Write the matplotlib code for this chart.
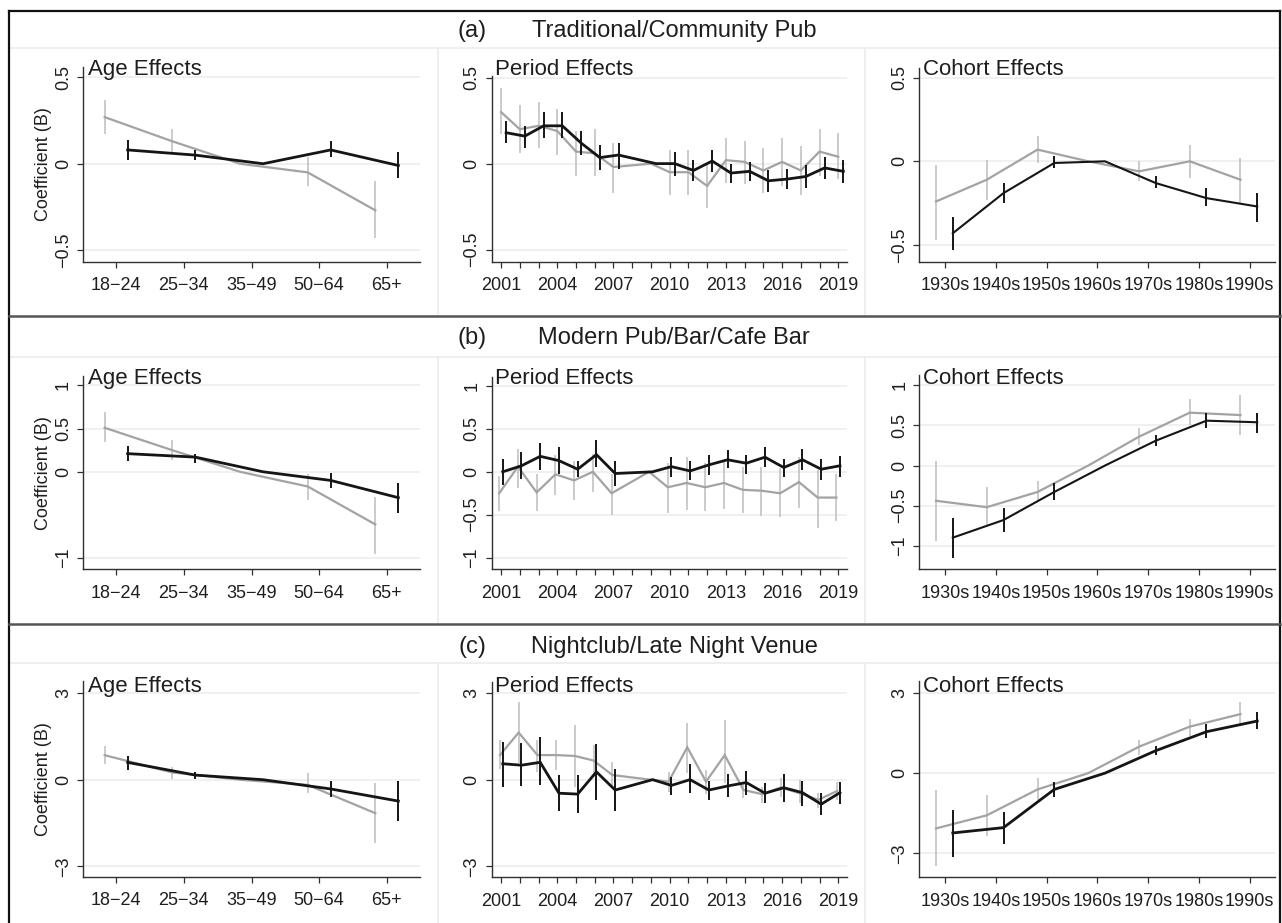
import numpy as np
import matplotlib
matplotlib.use("Agg")
import matplotlib.pyplot as plt
from matplotlib.lines import Line2D

plt.rcParams['font.family'] = ['Liberation Sans', 'DejaVu Sans']

nan = np.nan

# ---------------- categories ----------------
age_labels = ["18−24", "25−34", "35−49", "50−64", "65+"]
period_years = [2001, 2002, 2003, 2004, 2005, 2006, 2007, 2009, 2010, 2011,
                2012, 2013, 2014, 2015, 2016, 2017, 2018, 2019]
period_tick_years = list(range(2001, 2020))
period_label_years = [2001, 2004, 2007, 2010, 2013, 2016, 2019]
cohort_labels = ["1930s", "1940s", "1950s", "1960s", "1970s", "1980s", "1990s"]

row_titles = ["Traditional/Community Pub", "Modern Pub/Bar/Cafe Bar", "Nightclub/Late Night Venue"]
row_letters = ["(a)", "(b)", "(c)"]

# ---------------- (a) Traditional/Community Pub ----------------
a_age_grey = [0.27, 0.13, 0.0, -0.05, -0.27]
a_age_grey_lo = [0.17, 0.06, nan, -0.13, -0.43]
a_age_grey_hi = [0.37, 0.20, nan, 0.04, -0.10]
a_age_black = [0.08, 0.05, 0.0, 0.08, -0.01]
a_age_black_lo = [0.02, 0.02, nan, 0.04, -0.08]
a_age_black_hi = [0.14, 0.08, nan, 0.13, 0.07]

a_per_grey = [0.30, 0.20, 0.22, 0.19, 0.07, 0.06, -0.02, 0.0, -0.05, -0.05,
              -0.13, 0.02, 0.01, -0.04, 0.01, -0.04, 0.07, 0.04]
a_per_grey_lo = [0.17, 0.06, 0.09, 0.05, -0.07, -0.07, -0.17, nan, -0.18, -0.18,
                 -0.26, -0.11, -0.12, -0.17, -0.13, -0.18, -0.07, -0.09]
a_per_grey_hi = [0.44, 0.34, 0.36, 0.32, 0.19, 0.20, 0.12, nan, 0.08, 0.08,
                 0.00, 0.15, 0.13, 0.09, 0.15, 0.10, 0.20, 0.18]
a_per_black = [0.18, 0.16, 0.22, 0.22, 0.12, 0.035, 0.05, 0.0, 0.0, -0.04,
               0.015, -0.055, -0.045, -0.10, -0.09, -0.075, -0.025, -0.045]
a_per_black_lo = [0.12, 0.09, 0.15, 0.15, 0.05, -0.04, -0.03, nan, -0.07, -0.10,
                  -0.05, -0.11, -0.10, -0.165, -0.15, -0.14, -0.09, -0.11]
a_per_black_hi = [0.25, 0.22, 0.30, 0.30, 0.19, 0.11, 0.12, nan, 0.07, 0.02,
                  0.08, 0.00, 0.01, -0.04, -0.03, -0.01, 0.04, 0.02]

a_coh_grey = [-0.24, -0.11, 0.07, 0.0, -0.06, 0.0, -0.11]
a_coh_grey_lo = [-0.47, -0.23, -0.01, nan, -0.12, -0.10, -0.25]
a_coh_grey_hi = [-0.02, 0.01, 0.15, nan, 0.0, 0.10, 0.02]
a_coh_black = [-0.43, -0.19, -0.01, 0.0, -0.13, -0.22, -0.27]
a_coh_black_lo = [-0.53, -0.25, -0.04, nan, -0.16, -0.27, -0.36]
a_coh_black_hi = [-0.33, -0.13, 0.03, nan, -0.09, -0.16, -0.19]

# ---------------- (b) Modern Pub/Bar/Cafe Bar ----------------
b_age_grey = [0.51, 0.25, 0.0, -0.17, -0.61]
b_age_grey_lo = [0.35, 0.14, nan, -0.33, -0.95]
b_age_grey_hi = [0.69, 0.37, nan, -0.02, -0.29]
b_age_black = [0.21, 0.17, 0.0, -0.10, -0.30]
b_age_black_lo = [0.12, 0.10, nan, -0.19, -0.48]
b_age_black_hi = [0.30, 0.21, nan, -0.01, -0.13]

b_per_grey = [-0.25, 0.06, -0.24, -0.03, -0.10, 0.0, -0.25, 0.0, -0.18, -0.13,
              -0.18, -0.13, -0.21, -0.22, -0.25, -0.12, -0.30, -0.30]
b_per_grey_lo = [-0.46, -0.19, -0.46, -0.27, -0.33, -0.23, -0.50, nan, -0.48, -0.44,
                 -0.46, -0.43, -0.48, -0.52, -0.53, -0.42, -0.66, -0.57]
b_per_grey_hi = [-0.05, 0.27, -0.02, 0.19, 0.13, 0.21, -0.02, nan, 0.10, 0.17,
                 0.10, 0.12, 0.06, 0.06, 0.04, 0.17, 0.02, -0.02]
b_per_black = [0.0, 0.07, 0.18, 0.13, 0.03, 0.20, -0.02, 0.0, 0.06, 0.01,
               0.08, 0.14, 0.10, 0.17, 0.05, 0.14, 0.03, 0.07]
b_per_black_lo = [-0.15, -0.08, 0.02, -0.02, -0.06, 0.06, -0.17, nan, -0.06, -0.10,
                  -0.04, 0.04, -0.02, 0.06, -0.06, 0.02, -0.09, -0.06]
b_per_black_hi = [0.15, 0.23, 0.34, 0.29, 0.12, 0.37, 0.13, nan, 0.17, 0.12,
                  0.19, 0.25, 0.20, 0.29, 0.15, 0.26, 0.15, 0.18]

b_coh_grey = [-0.44, -0.52, -0.33, 0.0, 0.36, 0.66, 0.63]
b_coh_grey_lo = [-0.94, -0.74, -0.43, nan, 0.26, 0.50, 0.38]
b_coh_grey_hi = [0.06, -0.27, -0.19, nan, 0.47, 0.83, 0.88]
b_coh_black = [-0.90, -0.68, -0.33, 0.0, 0.31, 0.56, 0.54]
b_coh_black_lo = [-1.16, -0.83, -0.43, nan, 0.25, 0.47, 0.40]
b_coh_black_hi = [-0.65, -0.53, -0.22, nan, 0.38, 0.65, 0.66]

# ---------------- (c) Nightclub/Late Night Venue ----------------
c_age_grey = [0.85, 0.25, 0.0, -0.18, -1.16]
c_age_grey_lo = [0.53, 0.01, nan, -0.47, -2.20]
c_age_grey_hi = [1.16, 0.45, nan, 0.24, -0.13]
c_age_black = [0.60, 0.16, 0.0, -0.32, -0.74]
c_age_black_lo = [0.33, 0.01, nan, -0.59, -1.42]
c_age_black_hi = [0.82, 0.28, nan, -0.03, -0.03]

c_per_grey = [0.85, 1.63, 0.85, 0.85, 0.82, 0.66, 0.16, 0.0, -0.07, 1.12,
              -0.07, 0.85, -0.36, -0.50, -0.27, -0.47, -0.70, -0.39]
c_per_grey_lo = [0.36, 0.57, 0.28, 0.33, -0.24, 0.10, -0.30, nan, -0.42, 0.22,
                 -0.51, -0.13, -0.65, -0.80, -0.59, -0.82, -0.99, -0.71]
c_per_grey_hi = [1.37, 2.70, 1.37, 1.37, 1.89, 1.20, 0.62, nan, 0.28, 1.95,
                 0.33, 2.06, -0.13, -0.24, 0.05, -0.01, -0.47, -0.07]
c_per_black = [0.55, 0.50, 0.60, -0.47, -0.50, 0.27, -0.36, 0.0, -0.20, 0.0,
               -0.36, -0.22, -0.10, -0.47, -0.28, -0.45, -0.85, -0.45]
c_per_black_lo = [-0.24, -0.22, -0.18, -1.10, -1.14, -0.70, -1.08, nan, -0.53, -0.47,
                  -0.70, -0.59, -0.53, -0.80, -0.76, -0.91, -1.22, -0.84]
c_per_black_hi = [1.31, 1.26, 1.49, 0.16, 0.16, 1.22, 0.36, nan, 0.10, 0.53,
                  -0.03, 0.20, 0.31, -0.13, 0.18, -0.03, -0.47, -0.07]

c_coh_grey = [-2.07, -1.58, -0.61, 0.0, 0.99, 1.74, 2.21]
c_coh_grey_lo = [-3.49, -2.36, -1.01, nan, 0.68, 1.39, 1.80]
c_coh_grey_hi = [-0.64, -0.83, -0.20, nan, 1.24, 2.01, 2.67]
c_coh_black = [-2.24, -2.04, -0.61, 0.0, 0.84, 1.55, 1.95]
c_coh_black_lo = [-3.14, -2.64, -0.89, nan, 0.68, 1.30, 1.64]
c_coh_black_hi = [-1.39, -1.45, -0.35, nan, 1.01, 1.83, 2.30]

# ---------------- layout helpers ----------------
W, H = 1282, 923
fig = plt.figure(figsize=(W / 100, H / 100), dpi=100)
fig.patch.set_facecolor('white')

GREY = '#a3a3a3'
GREY_ERR = '#bdbdbd'
BLACK = '#151515'
GRID = '#ececec'
TXT = '#1e1e1e'


def fx(x):
    return x / W


def fy(y):
    return 1 - y / H


def flines(xs, ys, **kw):
    fig.add_artist(Line2D([fx(x) for x in xs], [fy(y) for y in ys],
                          transform=fig.transFigure, **kw))


def draw_panel(rect, xlim, ylim, yticks, yticklabels, xticks, xticklabels,
               xg, g, glo, ghi, xb, b, blo, bhi, black_lw=2.0):
    l, t, r, btm = rect
    ax = fig.add_axes([fx(l), fy(btm), (r - l) / W, (btm - t) / H])
    ax.set_xlim(*xlim)
    ax.set_ylim(*ylim)
    ax.set_facecolor('none')
    for yt in yticks:
        ax.axhline(yt, color=GRID, lw=1.1, zorder=0)
    # grey series
    xg = np.asarray(xg, float); g = np.asarray(g, float)
    glo = np.asarray(glo, float); ghi = np.asarray(ghi, float)
    m = ~np.isnan(glo)
    ax.vlines(xg[m], glo[m], ghi[m], color=GREY_ERR, lw=1.1, zorder=2)
    ax.plot(xg, g, color=GREY, lw=1.6, zorder=3, solid_joinstyle='miter')
    # black series
    xb = np.asarray(xb, float); b = np.asarray(b, float)
    blo = np.asarray(blo, float); bhi = np.asarray(bhi, float)
    m = ~np.isnan(blo)
    ax.vlines(xb[m], blo[m], bhi[m], color=BLACK, lw=1.4, zorder=4)
    ax.plot(xb, b, color=BLACK, lw=black_lw, zorder=5, solid_joinstyle='miter')

    for s in ['top', 'right']:
        ax.spines[s].set_visible(False)
    for s in ['left', 'bottom']:
        ax.spines[s].set_color('#303030')
        ax.spines[s].set_linewidth(1.0)
    ax.set_yticks(yticks)
    ax.set_yticklabels(yticklabels, rotation=90, va='center', fontsize=13, color=TXT)
    ax.set_xticks(xticks)
    ax.set_xticklabels(xticklabels, fontsize=13, color=TXT)
    ax.tick_params(axis='y', length=4, width=0.9, color='#303030', pad=4)
    ax.tick_params(axis='x', length=4, width=0.9, color='#303030', pad=7)
    return ax


rows = [
    dict(top=11, title_base=37, sep=48, ptitle=75,
         age=(83, 66.7, 420, 262), age_ylim=(-0.569, 0.562),
         per=(491.7, 76, 846.7, 261.7), per_ylim=(-0.571, 0.51),
         coh=(919.3, 68.3, 1275, 261.7), coh_ylim=(-0.60, 0.556),
         yt_age=[-0.5, 0, 0.5], yl_age=["−0.5", "0", "0.5"],
         yt=[-0.5, 0, 0.5], yl=["−0.5", "0", "0.5"],
         pg_off=0.0, pb_off=0.27,
         data=(a_age_grey, a_age_grey_lo, a_age_grey_hi, a_age_black, a_age_black_lo, a_age_black_hi,
               a_per_grey, a_per_grey_lo, a_per_grey_hi, a_per_black, a_per_black_lo, a_per_black_hi,
               a_coh_grey, a_coh_grey_lo, a_coh_grey_hi, a_coh_black, a_coh_black_lo, a_coh_black_hi),
         coh_lw=1.5),
    dict(top=316, title_base=344, sep=357, ptitle=384,
         age=(83, 376, 420, 569.3), age_ylim=(-1.13, 1.11),
         per=(491.7, 377.3, 846.7, 569.3), per_ylim=(-1.135, 1.10),
         coh=(919.3, 375, 1275, 569.3), coh_ylim=(-1.295, 1.13),
         yt_age=[-1, 0, 0.5, 1], yl_age=["−1", "0", "0.5", "1"],
         yt=[-1, -0.5, 0, 0.5, 1], yl=["−1", "−0.5", "0", "0.5", "1"],
         pg_off=-0.1, pb_off=0.09,
         data=(b_age_grey, b_age_grey_lo, b_age_grey_hi, b_age_black, b_age_black_lo, b_age_black_hi,
               b_per_grey, b_per_grey_lo, b_per_grey_hi, b_per_black, b_per_black_lo, b_per_black_hi,
               b_coh_grey, b_coh_grey_lo, b_coh_grey_hi, b_coh_black, b_coh_black_lo, b_coh_black_hi),
         coh_lw=1.5),
    dict(top=624, title_base=653, sep=663, ptitle=692,
         age=(83, 680.7, 420, 876.7), age_ylim=(-3.36, 3.43),
         per=(491.7, 681.7, 846.7, 877.3), per_ylim=(-3.38, 3.39),
         coh=(919.3, 680.7, 1275, 877.3), coh_ylim=(-3.9, 3.46),
         yt_age=[-3, 0, 3], yl_age=["−3", "0", "3"],
         yt=[-3, 0, 3], yl=["−3", "0", "3"],
         pg_off=-0.06, pb_off=0.09,
         data=(c_age_grey, c_age_grey_lo, c_age_grey_hi, c_age_black, c_age_black_lo, c_age_black_hi,
               c_per_grey, c_per_grey_lo, c_per_grey_hi, c_per_black, c_per_black_lo, c_per_black_hi,
               c_coh_grey, c_coh_grey_lo, c_coh_grey_hi, c_coh_black, c_coh_black_lo, c_coh_black_hi),
         coh_lw=2.0),
]

age_x = np.arange(len(age_labels))
coh_x = np.arange(len(cohort_labels))
per_x = np.asarray(period_years, float)
per_ticklabels = [str(y) if y in period_label_years else "" for y in period_tick_years]

row_bottoms = [316, 624, 923]

for i, R in enumerate(rows):
    d = R['data']
    # light separators inside each row box
    flines([9, 1280], [R['sep'], R['sep']], color='#ececec', lw=1.2)
    for xv in (438, 865):
        flines([xv, xv], [R['sep'], row_bottoms[i]], color='#ececec', lw=1.2)
    # row title
    fig.text(fx(472), fy(R['title_base']), row_letters[i], ha='center', va='baseline',
             fontsize=17, color=TXT)
    fig.text(fx(674), fy(R['title_base']), row_titles[i], ha='center', va='baseline',
             fontsize=17, color=TXT)

    # Age
    draw_panel(R['age'], (-0.49, 4.49), R['age_ylim'], R['yt_age'], R['yl_age'],
               age_x, age_labels,
               age_x - 0.17, d[0], d[1], d[2], age_x + 0.17, d[3], d[4], d[5])
    # Period
    draw_panel(R['per'], (2000.5, 2019.45), R['per_ylim'], R['yt'], R['yl'],
               period_tick_years, per_ticklabels,
               per_x + R['pg_off'], d[6], d[7], d[8], per_x + R['pb_off'], d[9], d[10], d[11])
    # Cohort
    draw_panel(R['coh'], (-0.51, 6.5), R['coh_ylim'], R['yt'], R['yl'],
               coh_x, cohort_labels,
               coh_x - 0.18, d[12], d[13], d[14], coh_x + 0.15, d[15], d[16], d[17],
               black_lw=R['coh_lw'])

    # panel titles
    fig.text(fx(88), fy(R['ptitle']), "Age Effects", ha='left', va='baseline', fontsize=16, color=TXT)
    fig.text(fx(495), fy(R['ptitle']), "Period Effects", ha='left', va='baseline', fontsize=16, color=TXT)
    fig.text(fx(923), fy(R['ptitle']), "Cohort Effects", ha='left', va='baseline', fontsize=16, color=TXT)

    # y label
    l, t, r, btm = R['age']
    fig.text(fx(43), fy((t + btm) / 2), "Coefficient (B)", rotation=90, ha='center', va='center',
             fontsize=13, color=TXT)

# outer borders
flines([9, 1280], [11, 11], color='#111111', lw=1.6)
flines([9, 9], [11, 923], color='#111111', lw=1.6)
flines([1280, 1280], [11, 923], color='#111111', lw=1.6)
for yv in (316, 624):
    flines([9, 1280], [yv, yv], color='#555555', lw=1.8)

fig.savefig('out.png', dpi=100, facecolor='white')
